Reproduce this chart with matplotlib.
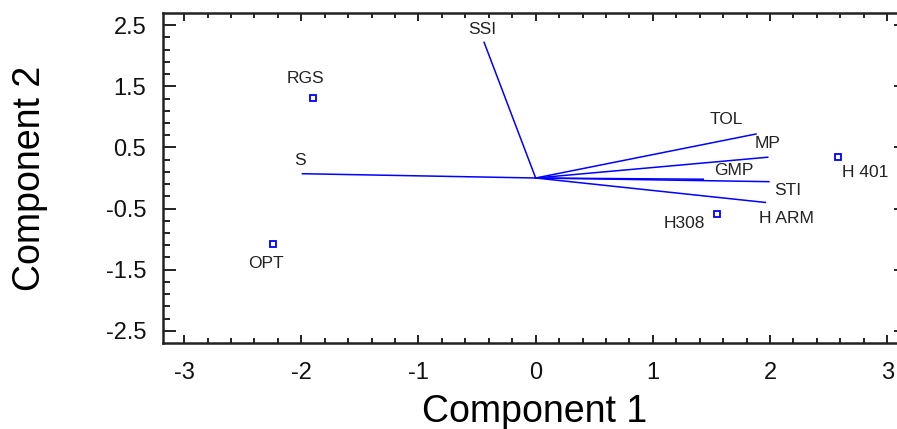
import numpy as np
import matplotlib
matplotlib.use("Agg")
import matplotlib.pyplot as plt
from matplotlib.ticker import MultipleLocator, FixedLocator

# observations (component scores)
obs_names = ["RGS", "OPT", "H308", "H 401"]
obs_x = [-1.90, -2.24, 1.55, 2.58]
obs_y = [1.31, -1.08, -0.59, 0.35]

# variable loadings (vectors from origin)
var_names = ["SSI", "S", "TOL", "MP", "GMP", "STI", "H ARM"]
var_x = [-0.44, -1.99, 1.88, 1.98, 1.43, 1.99, 1.96]
var_y = [2.22, 0.07, 0.72, 0.34, -0.02, -0.06, -0.40]

# label offsets in pixels
obs_off = [(-8, 19), (-7, -20), (-33, -9), (27, -16)]
var_off = [(-2, 13), (-2, 13), (-30, 14), (0, 14), (31, 9), (19, -9), (21, -16)]

plt.rcParams['font.family'] = ['Liberation Sans', 'DejaVu Sans']
plt.rcParams['axes.unicode_minus'] = False

fig = plt.figure(figsize=(8.97, 4.29), dpi=100)
# right edge of the frame runs just past the picture, as in the original
ax = fig.add_axes([163/897., 86/429., 743/897., 330/429.])

blue = '#0000ff'
for x, y in zip(var_x, var_y):
    ax.plot([0, x], [0, y], color=blue, lw=1.1)
ax.plot(obs_x, obs_y, 's', mfc='none', mec=blue, ms=5, mew=1.3)

for n, x, y, o in zip(obs_names, obs_x, obs_y, obs_off):
    ax.annotate(n, (x, y), xytext=o, textcoords='offset pixels',
                ha='center', va='center', fontsize=12.5, color='#222222')
for n, x, y, o in zip(var_names, var_x, var_y, var_off):
    ax.annotate(n, (x, y), xytext=o, textcoords='offset pixels',
                ha='center', va='center', fontsize=12.5, color='#222222')

ax.set_xlim(-3.18, 3.16)
ax.set_ylim(-2.7, 2.7)
ax.xaxis.set_major_locator(MultipleLocator(1))
ax.xaxis.set_minor_locator(MultipleLocator(0.2))
ax.yaxis.set_major_locator(FixedLocator([-2.5, -1.5, -0.5, 0.5, 1.5, 2.5]))
ax.yaxis.set_minor_locator(FixedLocator(np.arange(-2.5, 2.6, 0.2)))
ax.tick_params(which='both', direction='in', top=True, right=True, width=1.3,
               labelsize=17, colors='#111111')
ax.tick_params(axis='y', which='major', length=9, pad=12)
ax.tick_params(axis='y', which='minor', length=5)
ax.tick_params(axis='x', which='major', length=6, pad=14)
ax.tick_params(axis='x', which='minor', length=3.6)
for s in ax.spines.values():
    s.set_linewidth(1.8)
    s.set_color('#222222')

ax.set_xlabel("Component 1", fontsize=27)
ax.set_ylabel("Component 2", fontsize=27)
ax.xaxis.set_label_coords((535 - 163) / 743., -0.155)
ax.yaxis.set_label_coords(-115 / 743., 0.5)

fig.savefig("out.png", dpi=100)
